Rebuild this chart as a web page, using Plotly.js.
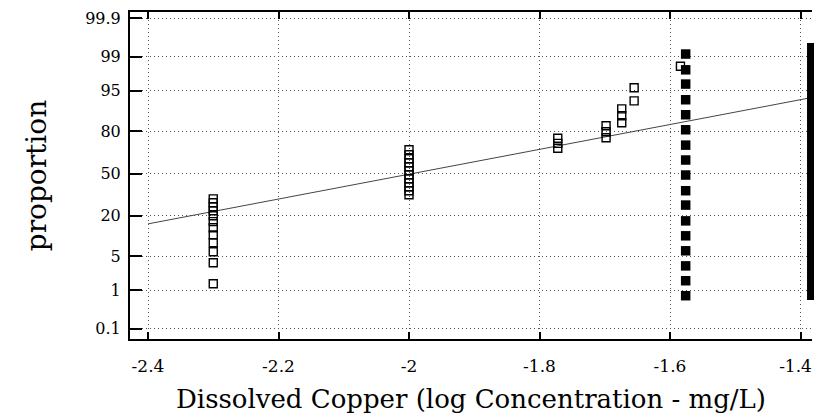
<!DOCTYPE html>
<html>
<head>
<meta charset="utf-8">
<script src="https://cdn.plot.ly/plotly-3.0.1.min.js"></script>
<style>html,body{margin:0;padding:0;background:#fff;}#chart{width:814px;height:415px;}</style>
</head>
<body>
<div id="chart"></div>
<script>
// ---- data (x = log10 concentration, p = cumulative proportion in %) ----
const openX = [
  -2.3,-2.3,-2.3,-2.3,-2.3,-2.3,-2.3,-2.3,-2.3,-2.3,-2.3,-2.3,
  -2.0,-2.0,-2.0,-2.0,-2.0,-2.0,-2.0,-2.0,-2.0,-2.0,-2.0,-2.0,
  -1.772,-1.772,-1.772,
  -1.698,-1.698,-1.698,
  -1.674,-1.674,-1.674,
  -1.655,-1.655,
  -1.584
];
const openP = [
  1.41,3.79,5.97,8.41,11.1,14.0,16.9,20.0,22.9,25.4,28.0,30.7,
  33.6,36.6,39.6,42.7,45.8,49.0,52.2,55.3,58.5,61.6,64.6,68.2,
  69.2,72.6,75.9,
  76.2,79.7,82.9,
  84.4,87.5,90.1,
  92.6,95.6,
  98.36
];
const filledX = [-1.576,-1.576,-1.576,-1.576,-1.576,-1.576,-1.576,-1.576,-1.576,
                 -1.576,-1.576,-1.576,-1.576,-1.576,-1.576,-1.576,-1.576];
const filledP = [99.13,98.05,96.25,92.9,87.9,80.8,71.4,60.6,48.8,
                 36.6,26.5,17.3,10.75,6.2,3.3,1.64,0.75];
const lineX = [-2.4, -1.382];
const lineP = [15.8, 93.5];
const yTickLabels = [0.1, 1, 5, 20, 50, 80, 95, 99, 99.9];
const xTickVals = [-2.4, -2.2, -2.0, -1.8, -1.6, -1.4];
const xTickText = ['-2.4', '-2.2', '-2', '-1.8', '-1.6', '-1.4'];

// ---- probability (probit) scale ----
function probit(pct) {
  const p = pct / 100;
  const a = [-3.969683028665376e+01, 2.209460984245205e+02, -2.759285104469687e+02, 1.383577518672690e+02, -3.066479806614716e+01, 2.506628277459239e+00];
  const b = [-5.447609879822406e+01, 1.615858368580409e+02, -1.556989798598866e+02, 6.680131188771972e+01, -1.328068155288572e+01];
  const c = [-7.784894002430293e-03, -3.223964580411365e-01, -2.400758277161838e+00, -2.549732539343734e+00, 4.374664141464968e+00, 2.938163982698783e+00];
  const d = [7.784695709041462e-03, 3.224671290700398e-01, 2.445134137142996e+00, 3.754408661907416e+00];
  const pl = 0.02425, ph = 1 - pl;
  let q, r;
  if (p < pl) {
    q = Math.sqrt(-2 * Math.log(p));
    return (((((c[0]*q+c[1])*q+c[2])*q+c[3])*q+c[4])*q+c[5]) / ((((d[0]*q+d[1])*q+d[2])*q+d[3])*q+1);
  } else if (p <= ph) {
    q = p - 0.5; r = q * q;
    return (((((a[0]*r+a[1])*r+a[2])*r+a[3])*r+a[4])*r+a[5])*q / (((((b[0]*r+b[1])*r+b[2])*r+b[3])*r+b[4])*r+1);
  } else {
    q = Math.sqrt(-2 * Math.log(1 - p));
    return -(((((c[0]*q+c[1])*q+c[2])*q+c[3])*q+c[4])*q+c[5]) / ((((d[0]*q+d[1])*q+d[2])*q+d[3])*q+1);
  }
}

const serif = 'DejaVu Serif';
const xRange = [-2.4276, -1.3824];
const nLast = xTickVals.length - 1;

const traces = [
  {
    type: 'scatter', mode: 'lines', x: lineX, y: lineP.map(probit),
    line: {color: '#444', width: 1}, hoverinfo: 'skip', showlegend: false
  },
  {
    type: 'scatter', mode: 'markers', x: openX, y: openP.map(probit),
    marker: {symbol: 'square-open', size: 8, color: '#000', line: {color: '#000', width: 1.4}},
    showlegend: false
  },
  {
    type: 'scatter', mode: 'markers', x: filledX, y: filledP.map(probit),
    marker: {symbol: 'square', size: 9.5, color: '#000'},
    showlegend: false
  },
  {
    // empty helper trace so the overlay axis carrying the last tick label is drawn
    type: 'scatter', mode: 'markers', x: [], y: [], xaxis: 'x2', yaxis: 'y',
    showlegend: false, hoverinfo: 'skip'
  }
];

const layout = {
  width: 814, height: 415,
  margin: {l: 130, r: 2, t: 12, b: 76},
  paper_bgcolor: '#fff', plot_bgcolor: '#fff',
  font: {family: serif, color: '#000'},
  showlegend: false,
  xaxis: {
    range: xRange,
    tickvals: xTickVals, ticktext: xTickText.map((t, i) => i === nLast ? '' : t),
    tickfont: {family: serif, size: 17, color: '#000'},
    ticks: 'inside', ticklen: 7, tickwidth: 2, tickcolor: '#000',
    showline: true, linewidth: 2, linecolor: '#000', mirror: 'ticks',
    showgrid: true, gridcolor: '#555', gridwidth: 1, griddash: '1px,3px',
    zeroline: false, ticklabelstandoff: 11,
    title: {text: '\u2002\u2009Dissolved Copper (log Concentration - mg/L)', font: {family: serif, size: 26, color: '#000'}, standoff: 14}
  },
  xaxis2: {
    range: xRange, overlaying: 'x', anchor: 'y', side: 'bottom',
    tickvals: [xTickVals[nLast]], ticktext: [xTickText[nLast]],
    tickfont: {family: serif, size: 17, color: '#000'},
    ticks: 'inside', ticklen: 7, tickwidth: 2, tickcolor: 'rgba(0,0,0,0)',
    showline: true, linewidth: 2, linecolor: 'rgba(0,0,0,0)',
    showgrid: false, zeroline: false,
    ticklabelstandoff: 11, ticklabelshift: -5, ticklabeloverflow: 'allow'
  },
  yaxis: {
    range: [-3.294, 3.215],
    tickvals: yTickLabels.map(probit), ticktext: yTickLabels.map(String),
    tickfont: {family: serif, size: 16, color: '#000'},
    ticks: 'inside', ticklen: 12, tickwidth: 2, tickcolor: '#000',
    showline: true, linewidth: 2, linecolor: '#000', mirror: false,
    showgrid: true, gridcolor: '#555', gridwidth: 1, griddash: '1px,3px',
    zeroline: false, ticklabelstandoff: 4,
    title: {text: 'proportion', font: {family: serif, size: 28, color: '#000'}, standoff: 30}
  },
  shapes: [
    {type: 'rect', xref: 'paper', yref: 'paper', x0: 0.9927, x1: 1.003, y0: 0.119, y1: 0.905,
     fillcolor: '#000', line: {width: 0}}
  ]
};

Plotly.newPlot('chart', traces, layout, {displayModeBar: false, staticPlot: true});
</script>
</body>
</html>
